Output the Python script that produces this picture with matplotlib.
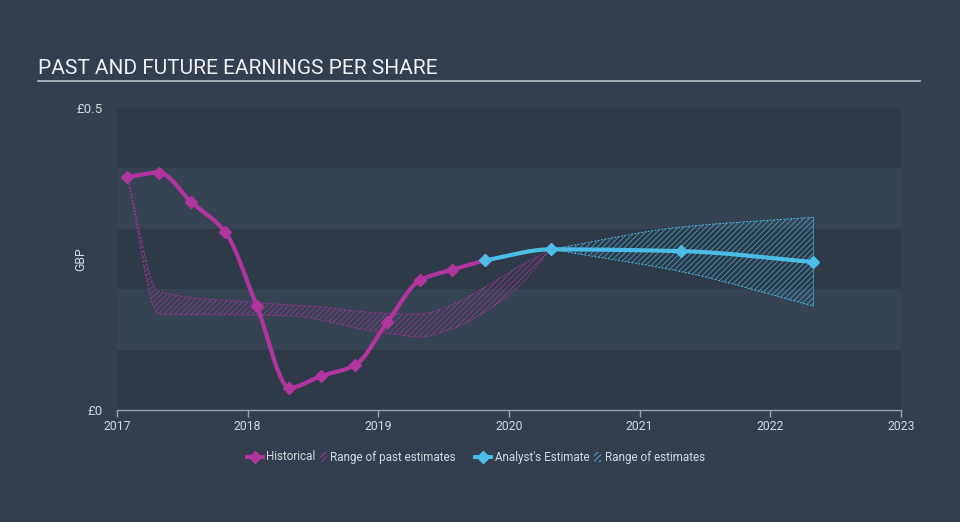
"""Past and future earnings per share chart (dark theme)."""
import numpy as np
import matplotlib
matplotlib.use('Agg')
import matplotlib.pyplot as plt
from matplotlib.lines import Line2D
from matplotlib.patches import Rectangle

matplotlib.rcParams['font.family'] = ['Roboto', 'DejaVu Sans']
matplotlib.rcParams['hatch.linewidth'] = 0.6

# ── data ──
hist_x = [2017.08, 2017.32, 2017.57, 2017.83, 2018.07, 2018.32,
          2018.56, 2018.82, 2019.07, 2019.32, 2019.56, 2019.82]
hist_y = [0.386, 0.393, 0.344, 0.294, 0.172, 0.037,
          0.056, 0.074, 0.146, 0.215, 0.232, 0.248]

est_x = [2019.82, 2020.32, 2021.32, 2022.33]
est_y = [0.248, 0.266, 0.263, 0.245]

past_x = [2017.08, 2017.32, 2018.07, 2018.32, 2018.56, 2018.82,
          2019.07, 2019.32, 2019.56, 2019.82, 2020.07, 2020.32]
past_hi = [0.386, 0.196, 0.178, 0.174, 0.171, 0.164,
           0.160, 0.159, 0.174, 0.204, 0.237, 0.266]
past_lo = [0.386, 0.159, 0.157, 0.156, 0.149, 0.136,
           0.127, 0.121, 0.134, 0.163, 0.204, 0.266]

fut_x = [2020.32, 2021.32, 2022.33]
fut_hi = [0.266, 0.303, 0.319]
fut_lo = [0.266, 0.229, 0.172]

year_ticks = [2017, 2018, 2019, 2020, 2021, 2022, 2023]

# ── colours ──
BG = '#333f4e'
BAND_DARK = '#2e3a48'
BAND_LIGHT = '#354353'
MAGENTA = '#b1359f'
BLUE = '#4bbde6'
TXT = '#d4d8dd'


def smooth(x, y, n=300):
    """Monotone cubic (Fritsch-Carlson) curve through the points, for drawing."""
    x = np.asarray(x, float); y = np.asarray(y, float)
    h = np.diff(x); d = np.diff(y) / h
    m = np.zeros_like(y)
    m[0], m[-1] = d[0], d[-1]
    for i in range(1, len(x) - 1):
        if d[i-1] * d[i] <= 0:
            m[i] = 0.0
        else:
            w1 = 2*h[i] + h[i-1]; w2 = h[i] + 2*h[i-1]
            m[i] = (w1 + w2) / (w1/d[i-1] + w2/d[i])
    xs = np.linspace(x[0], x[-1], n)
    idx = np.clip(np.searchsorted(x, xs) - 1, 0, len(x) - 2)
    t = (xs - x[idx]) / h[idx]
    h00 = 2*t**3 - 3*t**2 + 1; h10 = t**3 - 2*t**2 + t
    h01 = -2*t**3 + 3*t**2; h11 = t**3 - t**2
    ys = h00*y[idx] + h10*h[idx]*m[idx] + h01*y[idx+1] + h11*h[idx]*m[idx+1]
    return xs, ys


fig = plt.figure(figsize=(9.6, 5.22), dpi=100, facecolor=BG)
ax = fig.add_axes([117/960, 112/522, 784/960, 302/522])
ax.set_facecolor(BG)
ax.set_xlim(2017, 2023)
ax.set_ylim(0, 0.5)

# horizontal bands
for i in range(5):
    c = BAND_DARK if i % 2 == 0 else BAND_LIGHT
    ax.axhspan(i*0.1, (i+1)*0.1, color=c, lw=0, zorder=0)

# range of past estimates
px, phi = smooth(past_x, past_hi)
_, plo = smooth(past_x, past_lo)
ax.fill_between(px, plo, phi, facecolor='none', edgecolor=MAGENTA,
                hatch='//////', lw=0, alpha=0.8, zorder=2)
ax.plot(px, phi, color=MAGENTA, lw=0.7, ls=(0, (2, 1.5)), alpha=0.8, zorder=2)
ax.plot(px, plo, color=MAGENTA, lw=0.7, ls=(0, (2, 1.5)), alpha=0.8, zorder=2)

# range of estimates
fx, fhi = smooth(fut_x, fut_hi)
_, flo = smooth(fut_x, fut_lo)
ax.fill_between(fx, flo, fhi, facecolor='none', edgecolor=BLUE,
                hatch='//////', lw=0, alpha=0.75, zorder=2)
ax.plot(fx, fhi, color=BLUE, lw=0.7, ls=(0, (2, 1.5)), zorder=2)
ax.plot(fx, flo, color=BLUE, lw=0.7, ls=(0, (2, 1.5)), zorder=2)
ax.plot([fut_x[-1], fut_x[-1]], [fut_lo[-1], fut_hi[-1]], color=BLUE,
        lw=0.7, alpha=0.6, zorder=2)

# historical line
hx, hy = smooth(hist_x, hist_y, 600)
ax.plot(hx, hy, color=MAGENTA, lw=3.0, solid_capstyle='round', zorder=3)
ax.plot(hist_x, hist_y, ls='none', marker='D', ms=6.5, color=MAGENTA, zorder=4)

# analyst estimate line
ex, ey = smooth(est_x, est_y, 400)
ax.plot(ex, ey, color=BLUE, lw=3.0, solid_capstyle='round', zorder=3)
ax.plot(est_x, est_y, ls='none', marker='D', ms=6.5, color=BLUE, zorder=4)

# axes styling
for s in ['top', 'right', 'left']:
    ax.spines[s].set_visible(False)
ax.spines['bottom'].set_color('#9aa4ae')
ax.spines['bottom'].set_linewidth(1.0)
ax.set_xticks(year_ticks)
ax.set_xticklabels([str(y) for y in year_ticks])
ax.tick_params(axis='x', colors='#9aa4ae', labelcolor=TXT, length=5,
               width=1.0, labelsize=8.8, pad=2)
ax.set_yticks([0, 0.5])
ax.set_yticklabels(['£0', '£0.5'])
ax.tick_params(axis='y', length=0, labelcolor=TXT, labelsize=9.5, pad=10)
ax.set_ylabel('GBP', color=TXT, fontsize=8.8)
ax.yaxis.set_label_coords(-0.038, 0.5)

# title + underline
fig.text(38/960, 1 - 69/522, 'PAST AND FUTURE EARNINGS PER SHARE',
         color='#eef0f2', fontsize=15, va='center', ha='left')
fig.add_artist(Line2D([38/960, 920/960], [1 - 81/522, 1 - 81/522],
                      color='#b8bec5', lw=1.2))

# legend drawn by hand
ly = 1 - 457/522


def leg_marker(x0, x1, color):
    fig.add_artist(Line2D([x0/960, x1/960], [ly, ly], color=color, lw=2.8))
    fig.add_artist(Line2D([(x0+x1)/2/960], [ly], marker='D', ms=6.5,
                          color=color, ls='none'))


def leg_hatch(x0, color):
    fig.add_artist(Rectangle((x0/960, ly - 5/522), 7/960, 10/522,
                             facecolor='none', edgecolor=color,
                             hatch='//////', lw=0, transform=fig.transFigure))


leg_marker(247, 263, MAGENTA)
fig.text(266/960, ly, 'Historical', color=TXT, fontsize=8.4, va='center')
leg_hatch(320, MAGENTA)
fig.text(330/960, ly, 'Range of past estimates', color=TXT, fontsize=8.4,
         va='center')
leg_marker(475, 491, BLUE)
fig.text(495/960, ly, "Analyst's Estimate", color=TXT, fontsize=8.4,
         va='center')
leg_hatch(594, BLUE)
fig.text(605/960, ly, 'Range of estimates', color=TXT, fontsize=8.4,
         va='center')

plt.savefig('out.png', dpi=100, facecolor=BG)
